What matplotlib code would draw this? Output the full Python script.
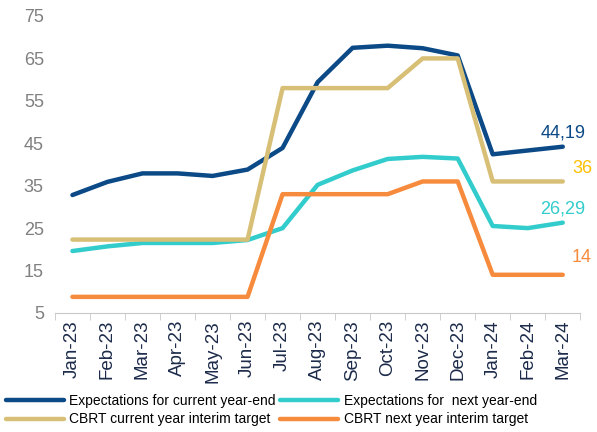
import matplotlib.pyplot as plt

months = ["Jan-23", "Feb-23", "Mar-23", "Apr-23", "May-23", "Jun-23", "Jul-23",
          "Aug-23", "Sep-23", "Oct-23", "Nov-23", "Dec-23", "Jan-24", "Feb-24", "Mar-24"]
exp_current = [32.8, 35.9, 37.9, 37.9, 37.3, 38.8, 43.9, 59.4, 67.5, 68.0, 67.4, 65.7, 42.4, 43.3, 44.19]
exp_next = [19.6, 20.7, 21.5, 21.5, 21.5, 22.2, 25.0, 35.2, 38.6, 41.3, 41.8, 41.4, 25.5, 25.0, 26.29]
cbrt_current = [22.3, 22.3, 22.3, 22.3, 22.3, 22.3, 58, 58, 58, 58, 65, 65, 36, 36, 36]
cbrt_next = [8.8, 8.8, 8.8, 8.8, 8.8, 8.8, 33, 33, 33, 33, 36, 36, 14, 14, 14]

plt.rcParams['font.family'] = ['Liberation Sans', 'DejaVu Sans']

fig = plt.figure(figsize=(5.97, 4.32), dpi=100)
ax = fig.add_axes([0.092, 0.2755, 0.88, 0.6875])

x = list(range(len(months)))
c_blue, c_teal, c_gold, c_orange = "#0B4A86", "#33CCCC", "#D8BF76", "#F78B3D"
l1, = ax.plot(x, exp_current, color=c_blue, lw=3.2, label="Expectations for current year-end", solid_capstyle='round')
l2, = ax.plot(x, exp_next, color=c_teal, lw=3.2, label="Expectations for  next year-end", solid_capstyle='round')
l3, = ax.plot(x, cbrt_current, color=c_gold, lw=3.2, label="CBRT current year interim target", solid_capstyle='round')
l4, = ax.plot(x, cbrt_next, color=c_orange, lw=3.2, label="CBRT next year interim target", solid_capstyle='round')

ax.text(14, exp_current[-1] + 1.2, "44,19", color=c_blue, fontsize=13, ha='center', va='bottom')
ax.text(14.55, cbrt_current[-1] + 3.0, "36", color="#FFC000", fontsize=13, ha='center', va='center')
ax.text(14, exp_next[-1] + 1.2, "26,29", color=c_teal, fontsize=13, ha='center', va='bottom')
ax.text(14.55, cbrt_next[-1] + 4.0, "14", color=c_orange, fontsize=13, ha='center', va='center')

ax.set_xlim(-0.5, 14.5)
ax.set_ylim(5, 75)
ax.set_yticks(range(5, 76, 10))
ax.tick_params(axis='y', length=0, labelsize=13, labelcolor="#808080", pad=8)
ax.set_xticks(x)
ax.set_xticklabels(months, rotation=90, fontsize=13.5, color="#1C2B4A")
ax.set_xticks([i - 0.5 for i in range(len(months) + 1)], minor=True)
ax.tick_params(axis='x', which='major', length=0, pad=5)
ax.tick_params(axis='x', which='minor', length=5, color="#C8C8C8")
for s in ['top', 'right', 'left']:
    ax.spines[s].set_visible(False)
ax.spines['bottom'].set_color("#C8C8C8")

fig.legend([l1, l3, l2, l4], [h.get_label() for h in [l1, l3, l2, l4]],
           loc='lower left', bbox_to_anchor=(0.0, 0.0), ncol=2, frameon=False,
           fontsize=10, handlelength=4.2, handletextpad=0.4, columnspacing=0.3,
           labelspacing=0.3, borderaxespad=0)

fig.savefig("out.png", dpi=100)
